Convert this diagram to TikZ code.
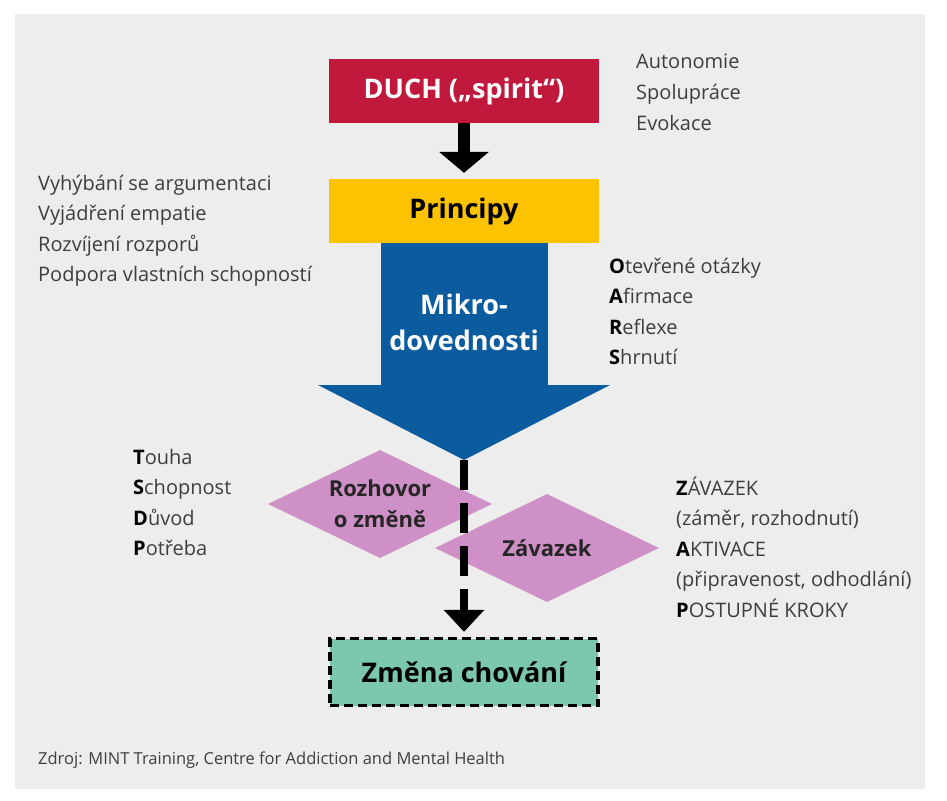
\documentclass[tikz,border=0pt]{standalone}
\usepackage{fontspec}
\setmainfont{Open Sans}
\usetikzlibrary{arrows.meta, positioning, shapes.geometric}
\usepackage{xcolor}
\definecolor{panelgray}{HTML}{EDEDED}
\definecolor{duchred}{HTML}{C1193B}
\definecolor{princyellow}{HTML}{FDC300}
\definecolor{mikroblue}{HTML}{0B5C9E}
\definecolor{talkpink}{HTML}{CE90C6}
\definecolor{changeteal}{HTML}{7CC8AE}
\definecolor{textgray}{HTML}{3E3E3E}
\newcommand{\leadletter}[1]{{\color{black}\bfseries #1}}
\tikzset{
  stagebox/.style={rectangle, inner sep=0pt, minimum width=270pt, minimum height=64pt,
                   font=\fontsize{27}{32}\selectfont\bfseries},
  changebox/.style={fill=changeteal, draw=black, line width=3.5pt,
                   dash pattern=on 9pt off 5pt, minimum width=268pt, minimum height=67pt},
  talkdiamond/.style={diamond, fill=talkpink, aspect=2, inner sep=-6pt, minimum width=224pt,
                   minimum height=108pt, align=center, text=black!85,
                   font=\fontsize{22}{31}\selectfont\bfseries},
  listtext/.style={anchor=base west, inner sep=0pt, text=textgray,
                   font=\fontsize{20}{24}\selectfont},
  fatarrow/.style={line width=12pt, -{Triangle[width=50pt, length=21pt, line width=0pt]}},
  bigarrow/.style={draw=mikroblue, line width=167pt,
                   -{Triangle[width=292pt, length=75pt, line width=0pt]}},
  dasharrow/.style={line width=8pt, dash pattern=on 30pt off 13pt,
                   -{Triangle[width=41pt, length=22pt, line width=0pt]}},
}
\begin{document}
\begin{tikzpicture}[x=1pt, y=-1pt]
    % Page and grey panel
    \fill[white] (0,0) rectangle (947,800);
    \useasboundingbox (0,0) rectangle (947,800);
    \fill[panelgray] (15,14) rectangle (925,789);
    % Stage boxes
    \node[stagebox, fill=duchred, text=white]   (duch)  at (464,91)  {DUCH („spirit“)};
    \node[stagebox, fill=princyellow, text=black] (princ) at (464,211) {Principy};
    \coordinate (mtip) at (464,460);
    % Arrows from spirit down to skills
    \draw[fatarrow, shorten >=6pt] (duch) -- (princ);
    \draw[bigarrow] (princ) -- (mtip);
    \node[font=\fontsize{27}{36}\selectfont\bfseries, text=white, align=center]
      (mikro) at (464,322) {Mikro-\\dovednosti};
    % Change talk and commitment
    \node[talkdiamond] (talk)   at (380,504) {Rozhovor\\o změně};
    \node[talkdiamond] (commit) at (547,548) {Závazek};
    \node[stagebox, changebox] (change) at (464,672) {Změna chování};
    \draw[dasharrow, shorten >=5pt] (mtip) -- (change);
    % Side lists
    \foreach \txt [count=\i] in {Autonomie, Spolupráce, Evokace}
      \node[listtext] (spirit\i) at (636, {69+30.5*(\i-1)}) {\txt};
    \foreach \txt [count=\i] in {Vyhýbání se argumentaci, Vyjádření empatie,
        Rozvíjení rozporů, Podpora vlastních schopností}
      \node[listtext] (rule\i) at (38, {190+30.5*(\i-1)}) {\txt};
    \foreach \txt [count=\i] in {\leadletter{O}tevřené otázky, \leadletter{A}firmace,
        \leadletter{R}eflexe, \leadletter{S}hrnutí}
      \node[listtext] (oars\i) at (609, {273+30.5*(\i-1)}) {\txt};
    \foreach \txt [count=\i] in {\leadletter{T}ouha, \leadletter{S}chopnost,
        \leadletter{D}ůvod, \leadletter{P}otřeba}
      \node[listtext] (want\i) at (133, {464+30.5*(\i-1)}) {\txt};
    \foreach \txt [count=\i] in {\leadletter{Z}ÁVAZEK, {(záměr, rozhodnutí)},
        \leadletter{A}KTIVACE, {(připravenost, odhodlání)}, \leadletter{P}OSTUPNÉ KROKY}
      \node[listtext] (step\i) at (676, {495+30.5*(\i-1)}) {\txt};
    % Source line
    \node[listtext, font=\fontsize{16.5}{20}\selectfont] (source) at (38,764)
      {Zdroj: MINT Training, Centre for Addiction and Mental Health};
\end{tikzpicture}
\end{document}
